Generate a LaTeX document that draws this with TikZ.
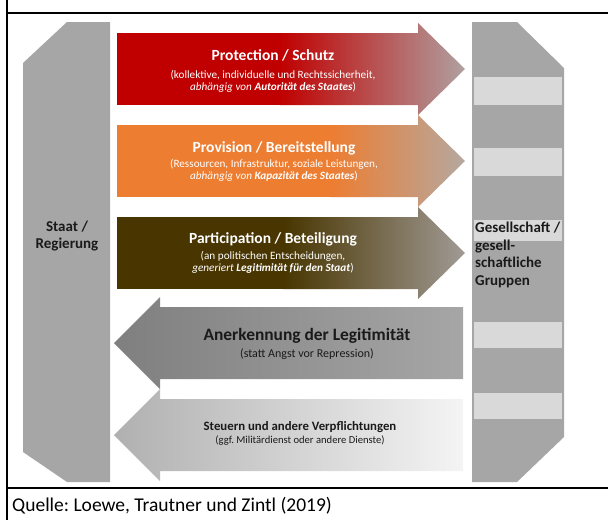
\documentclass[tikz,border=0pt]{standalone}
\usepackage{fontspec}
\setmainfont{Carlito}
\definecolor{pillar}{HTML}{A6A6A6}
\definecolor{slot}{HTML}{D9D9D9}
\definecolor{redA}{HTML}{C00000}
\definecolor{redB}{HTML}{B0A0A0}
\definecolor{oraA}{HTML}{ED7D31}
\definecolor{oraB}{HTML}{B5A89F}
\definecolor{brnA}{HTML}{483500}
\definecolor{brnB}{HTML}{A09A94}
\definecolor{gryA}{HTML}{7F7F7F}
\definecolor{gryB}{HTML}{A6A6A6}
\definecolor{ltA}{HTML}{B0B0B0}
\definecolor{ltB}{HTML}{F4F4F4}
\definecolor{ink}{HTML}{1A1A1A}
\tikzset{
  frame/.style={line width=2.2pt, black},
  wtitle/.style={text=white, font=\fontsize{15.5}{17}\selectfont\bfseries},
  wsub/.style={text=white, font=\fontsize{11.2}{12}\selectfont, align=center},
  dtitle/.style={text=ink},
  pillartext/.style={text=ink, font=\fontsize{15}{17.5}\selectfont\bfseries},
}
\begin{document}
\frenchspacing
\begin{tikzpicture}[x=1pt,y=-1pt]
\useasboundingbox (0,0) rectangle (608,520);
% frame
\draw[frame] (7,0) -- (7,520);
\draw[frame] (7,13) -- (608,13);
\draw[frame] (7,488) -- (608,488);
% pillars
\fill[pillar] (67,22) -- (110,22) -- (110,482) -- (67,482) -- (23,452) -- (23,63) -- cycle;
\fill[pillar] (472,22) -- (517,22) -- (564,68) -- (564,437) -- (517,482) -- (472,482) -- cycle;
\foreach \a/\b in {77/105,148/176,220/241,322/348,393/419}
  \fill[slot] (474,\a) rectangle (562,\b);
% arrow 1
\fill[redA] (117,33) rectangle (281,105);
\shade[left color=redA, right color=redB] (280,33) -- (418,33) -- (418,23) -- (465,69) -- (418,115) -- (418,105) -- (280,105) -- cycle;
% arrow 2
\fill[oraA] (117,125) rectangle (331,197);
\shade[left color=oraA, right color=oraB] (330,125) -- (418,125) -- (418,115) -- (465,161) -- (418,207) -- (418,197) -- (330,197) -- cycle;
% arrow 3
\fill[brnA] (117,217) rectangle (284,289);
\shade[left color=brnA, right color=brnB] (283,217) -- (418,217) -- (418,207) -- (465,253) -- (418,299) -- (418,289) -- (283,289) -- cycle;
% arrow 4
\shade[left color=gryA, right color=gryB] (463,307) -- (160,307) -- (160,297) -- (114,343) -- (160,389) -- (160,379) -- (463,379) -- cycle;
% arrow 5
\shade[left color=ltA, right color=ltB] (463,399) -- (160,399) -- (160,389) -- (114,435) -- (160,481) -- (160,471) -- (463,471) -- cycle;
% texts
\node[wtitle] (t1) at (273,55) {Protection / Schutz};
\node[wsub] (s1) at (273,81) {(kollektive, individuelle und Rechtssicherheit,\\ \textit{abhängig von \textbf{Autorität des Staates}})};
\node[wtitle] (t2) at (274,148) {Provision / Bereitstellung};
\node[wsub] (s2) at (274,170.5) {(Ressourcen, Infrastruktur, soziale Leistungen,\\ \textit{abhängig von \textbf{Kapazität des Staates}})};
\node[wtitle] (t3) at (273,239) {Participation / Beteiligung};
\node[wsub] (s3) at (273,262.5) {(an politischen Entscheidungen,\\ \textit{generiert \textbf{Legitimität für den Staat}})};
\node[dtitle, font=\fontsize{17.4}{19}\selectfont\bfseries] (t4) at (307,336) {Anerkennung der Legitimität};
\node[dtitle, font=\fontsize{12}{13}\selectfont] (s4) at (307,354) {(statt Angst vor Repression)};
\node[dtitle, font=\fontsize{12.8}{14}\selectfont\bfseries] (t5) at (300,427) {Steuern und andere Verpflichtungen};
\node[dtitle, font=\fontsize{10.6}{12}\selectfont] (s5) at (300,441) {(ggf. Militärdienst oder andere Dienste)};
\node[pillartext, align=center] (staat) at (67,236) {Staat /\\Regierung};
\node[pillartext, align=left, anchor=north west, inner sep=0pt] (ges) at (475,222) {Gesellschaft /\\gesell-\\schaftliche\\Gruppen};
\node[anchor=west, font=\fontsize{19.5}{21}\selectfont, inner sep=0pt] (quelle) at (12,506) {Quelle: Loewe, Trautner und Zintl (2019)};
\end{tikzpicture}
\end{document}
